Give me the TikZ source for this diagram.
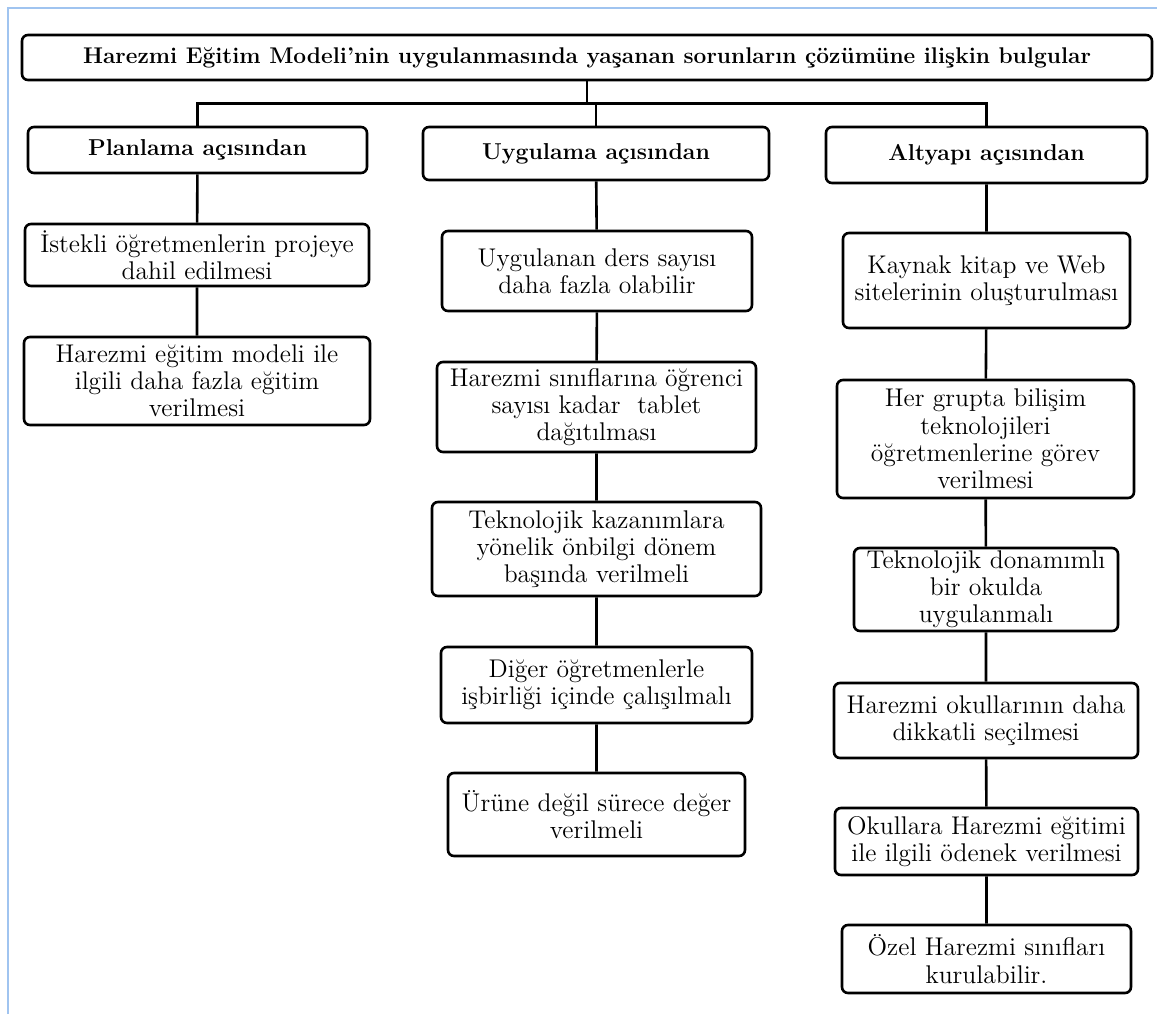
\documentclass[tikz,border=0pt]{standalone}
\usepackage{xcolor}
\definecolor{cerceve}{RGB}{160,196,240}

\begin{document}
\begin{tikzpicture}[x=0.5pt,y=-0.5pt,
	kutu/.style={draw, line width=1.3pt, rounded corners=3pt, inner sep=0pt, align=center, font=\fontsize{12.8}{13.6}\selectfont},
	baslik/.style={kutu, font=\bfseries\fontsize{11.5}{13}\selectfont},
	bag/.style={line width=1.3pt}]
	\useasboundingbox (0,0) rectangle (1157,1014);
	%draw frame
	\draw[cerceve, line width=1pt] (8,1014) -- (8,8) -- (1157,8);
	%main title
	\node[baslik, font=\bfseries\fontsize{11.35}{13}\selectfont, minimum width=565pt, minimum height=22.5pt] (bulgular) at (587,57.5) {Harezmi Eğitim Modeli’nin uygulanmasında yaşanan sorunların çözümüne ilişkin bulgular};
	%three headings
	\node[baslik, minimum width=169.5pt, minimum height=23pt] (planlama) at (197.5,150) {Planlama açısından};
	\node[baslik, minimum width=173pt, minimum height=26.5pt] (uygulama) at (596,153.5) {Uygulama açısından};
	\node[baslik, minimum width=160.5pt, minimum height=28pt] (altyapi) at (986.5,155) {Altyapı açısından};
	%planlama column
	\node[kutu, minimum width=172pt, minimum height=31pt] (p1) at (197,255) {İstekli öğretmenlerin projeye\\dahil edilmesi};
	\node[kutu, minimum width=173pt, minimum height=44pt] (p2) at (197,381) {Harezmi eğitim modeli ile\\ilgili daha fazla eğitim\\verilmesi};
	%uygulama column
	\node[kutu, minimum width=155pt, minimum height=40pt] (u1) at (597,271) {Uygulanan ders sayısı\\daha fazla olabilir};
	\node[kutu, minimum width=159.5pt, minimum height=45pt] (u2) at (596.5,407) {Harezmi sınıflarına öğrenci\\sayısı kadar~~tablet\\dağıtılması};
	\node[kutu, minimum width=164.5pt, minimum height=47pt] (u3) at (596.5,549) {Teknolojik kazanımlara\\yönelik önbilgi dönem\\başında verilmeli};
	\node[kutu, minimum width=155.5pt, minimum height=38pt] (u4) at (596.5,685) {Diğer öğretmenlerle\\işbirliği içinde çalışılmalı};
	\node[kutu, minimum width=148.5pt, minimum height=41.5pt] (u5) at (596.5,814.5) {Ürüne değil sürece değer\\verilmeli};
	%altyapi column
	\node[kutu, minimum width=143.5pt, minimum height=47.5pt] (a1) at (986.5,280.5) {Kaynak kitap ve Web\\sitelerinin oluşturulması};
	\node[kutu, minimum width=148.5pt, minimum height=59pt] (a2) at (985.5,439) {Her grupta bilişim\\teknolojileri\\öğretmenlerine görev\\verilmesi};
	\node[kutu, minimum width=132pt, minimum height=41.5pt] (a3) at (986,589.5) {Teknolojik donamımlı\\bir okulda\\uygulanmalı};
	\node[kutu, minimum width=152pt, minimum height=37.5pt] (a4) at (986,720.5) {Harezmi okullarının daha\\dikkatli seçilmesi};
	\node[kutu, minimum width=151.5pt, minimum height=33.5pt] (a5) at (986.5,841.5) {Okullara Harezmi eğitimi\\ile ilgili ödenek verilmesi};
	\node[kutu, minimum width=144.5pt, minimum height=34pt] (a6) at (986.5,959) {Özel Harezmi sınıfları\\kurulabilir.};
	%connect title to headings
	\draw[bag] (bulgular.south) -- (587,103.5) coordinate (dal);
	\draw[bag] (planlama.north) |- (dal) -| (altyapi.north);
	\draw[bag] (uygulama.north) -- (uygulama.north |- dal);
	%connect columns
	\draw[bag] (planlama) -- (p1) -- (p2);
	\draw[bag] (uygulama) -- (u1) -- (u2) -- (u3) -- (u4) -- (u5);
	\draw[bag] (altyapi) -- (a1) -- (a2) -- (a3) -- (a4) -- (a5) -- (a6);
\end{tikzpicture}
\end{document}
